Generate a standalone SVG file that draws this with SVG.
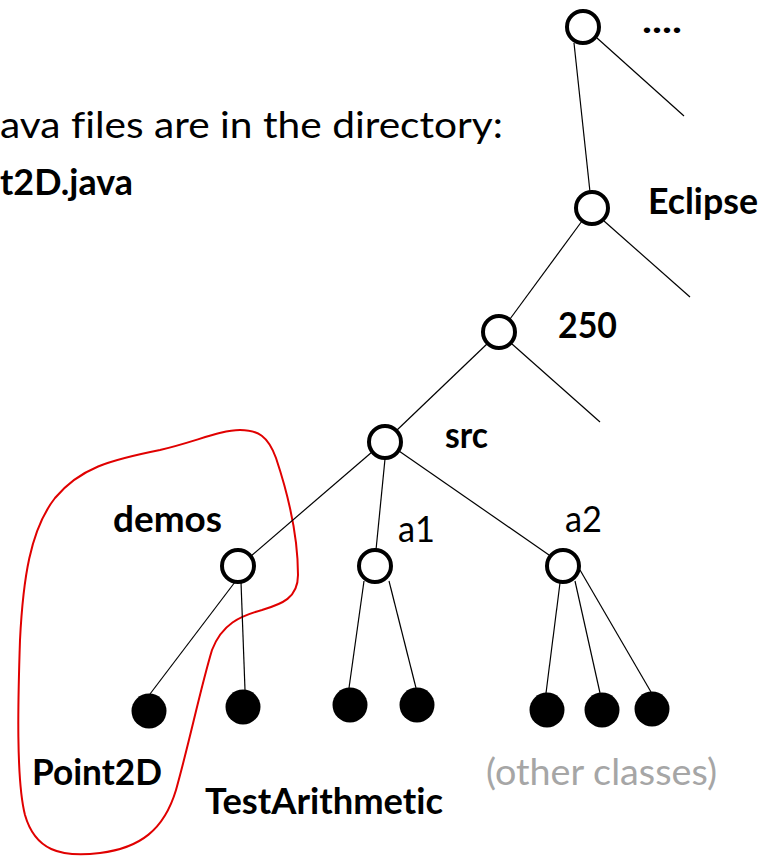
<svg xmlns="http://www.w3.org/2000/svg" width="765" height="856" viewBox="0 0 765 856">
  <style>
    .dir { fill: #fff; stroke: #000; stroke-width: 4; }
    .file { fill: #000; }
    .edge { stroke: #000; stroke-width: 1.2; fill: none; }
    text { font-family: Lato, "Open Sans", sans-serif; font-variant-ligatures: none; fill: #000; }
    .b { font-weight: bold; font-size: 36px; }
    .r { font-size: 37px; }
    .grey { fill: #a6a6a6; }
  </style>
  <rect width="765" height="856" fill="#fff"/>

  <!-- header text -->
  <text class="r" x="0" y="138" textLength="503" lengthAdjust="spacingAndGlyphs">ava files are in the directory:</text>
  <text class="b" x="0" y="195" textLength="133" lengthAdjust="spacingAndGlyphs">t2D.java</text>

  <!-- package highlight -->
  <path d="M240,430 C258,430 268,436 276,458 C290,500 298,540 298,575 C298,598 282,604 262,610 C240,616 222,624 212,650 C200,690 190,740 176,790 C164,830 140,848 100,853 C60,858 35,850 25,815 C16,780 18,700 20,640 C23,580 30,530 55,498 C80,468 110,460 160,450 C195,442 220,430 240,430 Z" fill="none" stroke="#e00000" stroke-width="2"/>

  <!-- connectors -->
  <g id="connectors">
    <line class="edge" x1="574" y1="43" x2="590" y2="192"/>
    <line class="edge" x1="597" y1="38" x2="684" y2="116"/>
    <line class="edge" x1="582" y1="221" x2="510" y2="319"/>
    <line class="edge" x1="604" y1="221" x2="690" y2="297"/>
    <line class="edge" x1="488" y1="343" x2="396" y2="431"/>
    <line class="edge" x1="512" y1="344" x2="600" y2="422"/>
    <line class="edge" x1="372" y1="452" x2="251" y2="556"/>
    <line class="edge" x1="385" y1="459" x2="376" y2="550"/>
    <line class="edge" x1="399" y1="451" x2="549" y2="555"/>
    <line class="edge" x1="235" y1="582" x2="150" y2="694"/>
    <line class="edge" x1="241" y1="582" x2="245" y2="690"/>
    <line class="edge" x1="364" y1="581" x2="349" y2="688"/>
    <line class="edge" x1="389" y1="581" x2="416" y2="688"/>
    <line class="edge" x1="560" y1="583" x2="546" y2="693"/>
    <line class="edge" x1="575" y1="581" x2="600" y2="693"/>
    <line class="edge" x1="580" y1="570" x2="651" y2="692"/>
  </g>

  <!-- directory nodes -->
  <g id="root"><circle class="dir" cx="583" cy="27" r="16"/>
    <text class="b" x="642" y="33" textLength="40" lengthAdjust="spacingAndGlyphs">....</text></g>
  <g id="eclipse"><circle class="dir" cx="592" cy="208" r="16"/>
    <text class="b" x="648" y="214" textLength="110" lengthAdjust="spacingAndGlyphs">Eclipse</text></g>
  <g id="n250"><circle class="dir" cx="499" cy="332" r="16"/>
    <text class="b" x="558" y="338" textLength="59" lengthAdjust="spacingAndGlyphs">250</text></g>
  <g id="src"><circle class="dir" cx="385" cy="442" r="16"/>
    <text class="b" x="445" y="448" textLength="43" lengthAdjust="spacingAndGlyphs">src</text></g>
  <g id="demos"><circle class="dir" cx="238" cy="566" r="16"/>
    <text class="b" x="113" y="532" textLength="109" lengthAdjust="spacingAndGlyphs">demos</text></g>
  <g id="a1"><circle class="dir" cx="375" cy="566" r="16"/>
    <text class="r" x="398" y="542" textLength="37" lengthAdjust="spacingAndGlyphs">a1</text></g>
  <g id="a2"><circle class="dir" cx="563" cy="566" r="16"/>
    <text class="r" x="565" y="532" textLength="37" lengthAdjust="spacingAndGlyphs">a2</text></g>

  <!-- class files -->
  <g id="point2d"><circle class="file" cx="149" cy="711" r="17.5"/>
    <text class="b" x="32" y="785" textLength="130" lengthAdjust="spacingAndGlyphs">Point2D</text></g>
  <g id="testarithmetic"><circle class="file" cx="243" cy="707" r="17.5"/>
    <text class="b" x="205" y="814" textLength="238" lengthAdjust="spacingAndGlyphs">TestArithmetic</text></g>
  <g id="a1-file1"><circle class="file" cx="350" cy="705" r="17.5"/></g>
  <g id="a1-file2"><circle class="file" cx="417" cy="705" r="17.5"/></g>
  <g id="a2-file1"><circle class="file" cx="547" cy="710" r="17.5"/></g>
  <g id="a2-file2"><circle class="file" cx="602" cy="710" r="17.5"/></g>
  <g id="a2-file3"><circle class="file" cx="652" cy="709" r="17.5"/></g>
  <text class="r grey" x="486" y="785" textLength="231" lengthAdjust="spacingAndGlyphs">(other classes)</text>
</svg>
